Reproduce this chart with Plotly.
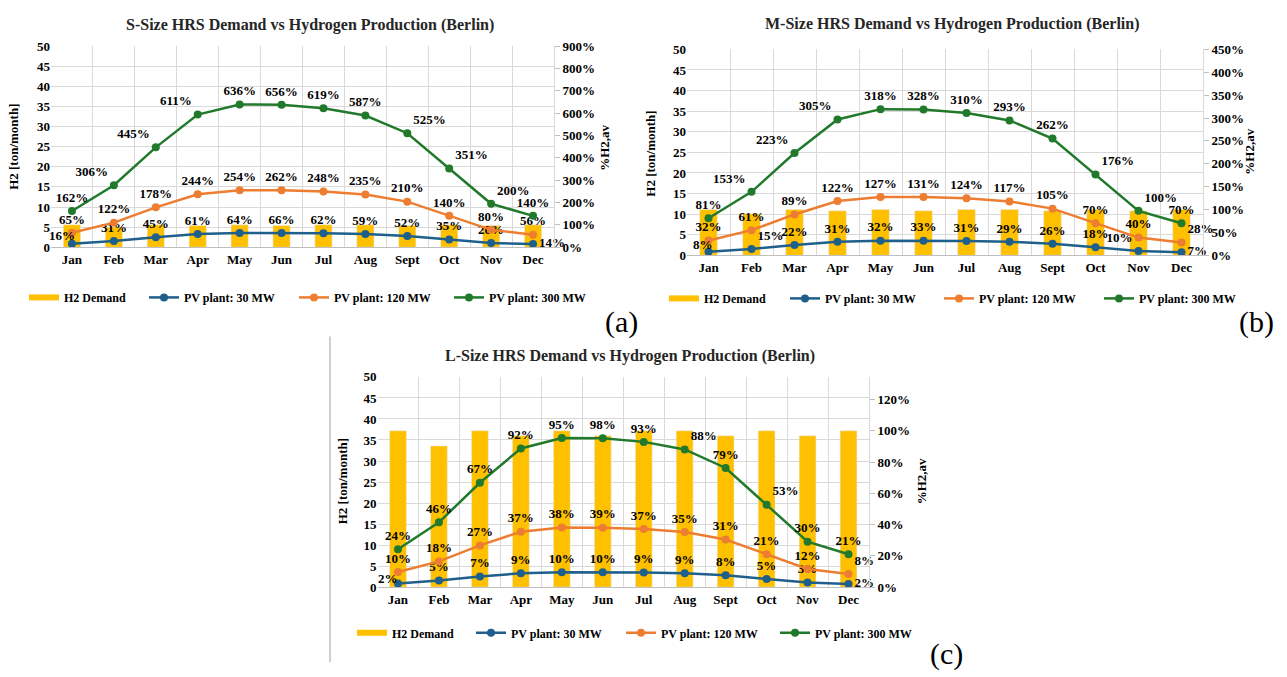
import plotly.graph_objects as go

# ---------------- data ----------------
months = ["Jan", "Feb", "Mar", "Apr", "May", "Jun", "Jul", "Aug", "Sept", "Oct", "Nov", "Dec"]

# monthly hydrogen demand [ton/month]
demand_s = [5.58, 5.04, 5.58, 5.40, 5.58, 5.40, 5.58, 5.58, 5.40, 5.58, 5.40, 5.58]
demand_m = [11.16, 10.08, 11.16, 10.80, 11.16, 10.80, 11.16, 11.16, 10.80, 11.16, 10.80, 11.16]
demand_l = [37.2, 33.6, 37.2, 36.0, 37.2, 36.0, 37.2, 37.2, 36.0, 37.2, 36.0, 37.2]

# monthly hydrogen production [ton/month]
pv30 = [0.89, 1.56, 2.51, 3.30, 3.57, 3.56, 3.46, 3.29, 2.81, 1.95, 1.08, 0.78]
pv120 = [3.60, 6.12, 9.93, 13.18, 14.17, 14.15, 13.84, 13.10, 11.34, 7.80, 4.32, 3.12]
pv300 = [9.02, 15.42, 24.83, 32.99, 35.49, 35.42, 34.55, 32.75, 28.35, 19.60, 10.80, 7.81]

# coverage labels [%]
s_pct30 = [16, 31, 45, 61, 64, 66, 62, 59, 52, 35, 20, 14]
s_pct120 = [65, 122, 178, 244, 254, 262, 248, 235, 210, 140, 80, 56]
s_pct300 = [162, 306, 445, 611, 636, 656, 619, 587, 525, 351, 200, 140]
m_pct30 = [8, 15, 22, 31, 32, 33, 31, 29, 26, 18, 10, 7]
m_pct120 = [32, 61, 89, 122, 127, 131, 124, 117, 105, 70, 40, 28]
m_pct300 = [81, 153, 223, 305, 318, 328, 310, 293, 262, 176, 100, 70]
l_pct30 = [2, 5, 7, 9, 10, 10, 9, 9, 8, 5, 3, 2]
l_pct120 = [10, 18, 27, 37, 38, 39, 37, 35, 31, 21, 12, 8]
l_pct300 = [24, 46, 67, 92, 95, 98, 93, 88, 79, 53, 30, 21]

titles = ["S-Size HRS Demand vs Hydrogen Production (Berlin)",
          "M-Size HRS Demand vs Hydrogen Production (Berlin)",
          "L-Size HRS Demand vs Hydrogen Production (Berlin)"]
series_names = ["H2 Demand", "PV plant: 30 MW", "PV plant: 120 MW", "PV plant: 300 MW"]

# ---------------- styles ----------------
W, H = 1287, 677
FONT = "Liberation Serif"
C_BAR = "#FFC000"
C_30 = "#1F5F8B"
C_120 = "#ED7D31"
C_300 = "#217A2C"
GRID = "#D9D9D9"

tc, tl, tr, ml, mr = "top center", "top left", "top right", "middle left", "middle right"
pos = {
    1: ([tc] * 11 + [mr],
        [tc] * 12,
        [tc, tl, tl, tl, tc, tc, tc, tc, tr, tr, tr, tc]),
    2: ([tc, tr] + [tc] * 8 + [tl, mr],
        [tc] * 11 + [tr],
        [tc, tl, tl, tl, tc, tc, tc, tc, tc, tr, tr, tc]),
    3: ([tc] * 11 + [mr],
        [tc] * 11 + [tr],
        [tc] * 7 + [tr, tc, tr, tc, tc]),
}
# the January 30 MW label sits up-left of its point (pixel shifts of its centre)
jan_shift = {1: (-10, 8), 2: (-6, 7), 3: (-10, 5)}

# panel geometry in pixels: (x0, x1, ytop, ybottom)
geom = {1: (51, 554, 40, 245.7), 2: (687, 1203, 43.3, 254), 3: (377.5, 869, 378.3, 593.3)}
right_axes = {1: (9.0, 1.0), 2: (4.5, 0.5), 3: (1.344, 0.2)}
# legend entry positions (left x of each entry, centre y) in pixels
leg_x = {1: (24, 144, 294, 449), 2: (664, 785, 939, 1099), 3: (352, 471, 621, 775)}
leg_y = {1: 297, 2: 298, 3: 640}

panels = {
    1: (demand_s, s_pct30, s_pct120, s_pct300),
    2: (demand_m, m_pct30, m_pct120, m_pct300),
    3: (demand_l, l_pct30, l_pct120, l_pct300),
}


def px(x):
    return x / W


def py(y):
    return 1 - y / H


def legkey(k):
    return "legend" if k == 1 else f"legend{k}"


fig = go.Figure()
layout = {}
annotations = []

tickfont = dict(family=FONT, size=13, color="black", weight="bold")
labfont = dict(family=FONT, size=13, color="black", weight="bold")
legfont = dict(family=FONT, size=12, color="black", weight="bold")

for i in (1, 2, 3):
    demand, p30, p120, p300 = panels[i]
    xname = "x" if i == 1 else f"x{i}"
    ymain = "y" if i == 1 else f"y{2 * i - 1}"
    ysec = f"y{2 * i}"
    pos30, pos120, pos300 = pos[i]
    base = (i - 1) * 4

    fig.add_trace(go.Bar(x=months, y=demand, name=series_names[0], marker_color=C_BAR,
                         xaxis=xname, yaxis=ymain, showlegend=False, hoverinfo="skip"))
    # legend entry for the demand bars (wide flat swatch like the original)
    fig.add_trace(go.Scatter(x=[None], y=[None], name=series_names[0], mode="lines",
                             line=dict(color=C_BAR, width=6), xaxis=xname, yaxis=ymain,
                             legend=legkey(base + 1)))
    for j, (vals, pct, col, name, tp) in enumerate(((pv30, p30, C_30, series_names[1], pos30),
                                                    (pv120, p120, C_120, series_names[2], pos120),
                                                    (pv300, p300, C_300, series_names[3], pos300))):
        texts = [f"{v}%" for v in pct]
        if j == 0:
            dx, dy = jan_shift[i]
            annotations.append(dict(x=months[0], y=vals[0], xref=xname, yref=ymain,
                                    text=texts[0], showarrow=False, xshift=dx, yshift=dy,
                                    xanchor="center", yanchor="middle", font=labfont))
            texts[0] = ""
        fig.add_trace(go.Scatter(x=months, y=vals, name=name, mode="lines+markers+text",
                                 line=dict(color=col, width=2.5),
                                 marker=dict(color=col, size=8),
                                 text=texts, textposition=tp,
                                 textfont=labfont, cliponaxis=False,
                                 xaxis=xname, yaxis=ymain, legend=legkey(base + 2 + j)))
    # invisible trace to carry the secondary (percentage) axis
    fig.add_trace(go.Scatter(x=months, y=[v / 100 for v in p300], mode="lines",
                             line=dict(width=0), opacity=0, showlegend=False,
                             hoverinfo="skip", xaxis=xname, yaxis=ysec))

    x0, x1, yt, yb = geom[i]
    xkey = "xaxis" if i == 1 else f"xaxis{i}"
    ykey = "yaxis" if i == 1 else f"yaxis{2 * i - 1}"
    y2key = f"yaxis{2 * i}"
    rmax, rdt = right_axes[i]
    layout[xkey] = dict(domain=[px(x0), px(x1)], anchor=ymain, type="category",
                        tickson="boundaries", showgrid=True, gridcolor=GRID, gridwidth=1,
                        showline=True, linecolor="#BFBFBF", linewidth=1,
                        ticks="", tickfont=tickfont, range=[-0.5, 11.5], fixedrange=True)
    layout[ykey] = dict(domain=[py(yb), py(yt)], anchor=xname, range=[0, 50], dtick=5,
                        showgrid=True, gridcolor=GRID, gridwidth=1, zeroline=False,
                        showline=False, ticks="", tickfont=tickfont)
    layout[y2key] = dict(overlaying=ymain, side="right", anchor=xname, range=[0, rmax],
                         dtick=rdt, tickformat=".0%", showgrid=False, zeroline=False,
                         showline=True, linecolor=GRID, ticks="outside", ticklen=5,
                         tickcolor="#BFBFBF", tickfont=tickfont)

    for j in range(4):
        layout[legkey(base + 1 + j)] = dict(orientation="h", x=px(leg_x[i][j]), y=py(leg_y[i]),
                                            xanchor="left", yanchor="middle", font=legfont,
                                            bgcolor="rgba(0,0,0,0)")

title_pos = {1: (310, 18), 2: (952, 17), 3: (630, 357)}
ytitle_pos = {1: (14, 143), 2: (651, 150), 3: (342, 485)}
rtitle_pos = {1: (605, 144), 2: (1250, 148), 3: (921, 485)}
for i in (1, 2, 3):
    tx, ty = title_pos[i]
    annotations.append(dict(text=titles[i - 1], x=px(tx), y=py(ty), xref="paper", yref="paper",
                            showarrow=False, xanchor="center", yanchor="middle",
                            font=dict(family=FONT, size=16, color="#262626", weight="bold")))
    ax, ay = ytitle_pos[i]
    annotations.append(dict(text="H2 [ton/month]", x=px(ax), y=py(ay), xref="paper", yref="paper",
                            showarrow=False, textangle=-90, xanchor="center", yanchor="middle",
                            font=dict(family=FONT, size=13, color="black", weight="bold")))
    rx, ry = rtitle_pos[i]
    annotations.append(dict(text="%H2,av", x=px(rx), y=py(ry), xref="paper", yref="paper",
                            showarrow=False, textangle=-90, xanchor="center", yanchor="middle",
                            font=dict(family=FONT, size=13, color="black", weight="bold")))

for lab, (lx, ly) in (("(a)", (621, 322)), ("(b)", (1256, 322)), ("(c)", (946, 662))):
    annotations.append(dict(text=lab, x=px(lx), y=py(ly), xref="paper", yref="paper",
                            showarrow=False, xanchor="center", yanchor="middle",
                            font=dict(family=FONT, size=30, color="black")))

fig.update_layout(
    width=W, height=H, margin=dict(l=0, r=0, t=0, b=0),
    paper_bgcolor="white", plot_bgcolor="white",
    bargap=0.59, showlegend=True,
    annotations=annotations,
    shapes=[dict(type="line", xref="paper", yref="paper", x0=px(330), x1=px(330),
                 y0=py(337), y1=py(670), line=dict(color="#BFBFBF", width=1.5))],
    **layout,
)

fig.write_html("out.html")
